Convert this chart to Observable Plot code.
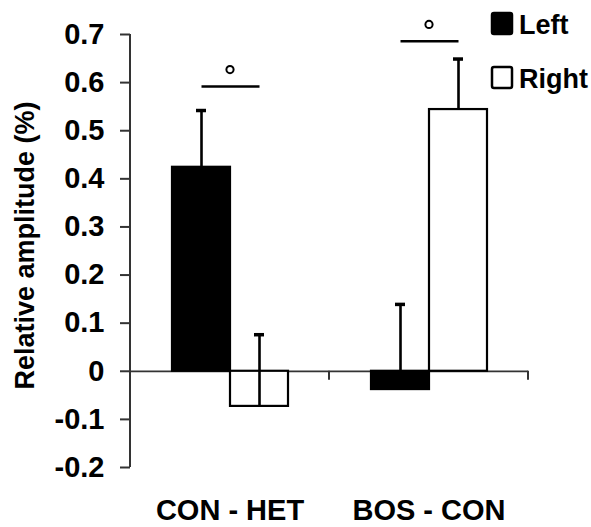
<!DOCTYPE html>
<html><head><meta charset="utf-8">
<script src="https://cdn.jsdelivr.net/npm/d3@7"></script>
<script src="https://cdn.jsdelivr.net/npm/@observablehq/plot@0.6"></script>
<style>body{margin:0;background:#fff}</style>
</head><body><div id="chart"></div>
<script>
const groups = ["CON - HET", "BOS - CON"];
const sides = ["Left", "Right"];
const leftValues = [0.424, -0.038];
const rightValues = [-0.073, 0.544];
const leftErrPlus = [0.118, 0.177];
const rightErrPlus = [0.149, 0.105];
const sigLineY = [0.592, 0.686];
const sigMarkY = [0.627, 0.721];
const yTicks = [-0.2, -0.1, 0, 0.1, 0.2, 0.3, 0.4, 0.5, 0.6, 0.7];
const yLabel = "Relative amplitude (%)";
const legendLabels = ["Left", "Right"];
const sideColors = ["#000", "#fff"];

const bars = groups.flatMap((g, i) => [
  {group: g, side: sides[0], value: leftValues[i], err: leftErrPlus[i]},
  {group: g, side: sides[1], value: rightValues[i], err: rightErrPlus[i]}
]);
const sig = groups.map((g, i) => ({group: g, y: sigLineY[i], mark: sigMarkY[i]}));
const fmt = d => Math.abs(d) < 1e-9 ? "0" : d.toFixed(1);

const font = "'Liberation Sans', Arial, sans-serif";
const chart = Plot.plot({
  width: 591, height: 527,
  marginLeft: 129, marginRight: 63, marginTop: 34, marginBottom: 60,
  style: {fontFamily: font, fontSize: "29px", fontWeight: "bold", color: "#000", background: "#fff", overflow: "visible"},
  fx: {domain: groups, padding: 0, label: null},
  x: {domain: sides, paddingInner: 0, paddingOuter: 0.7, axis: null},
  y: {domain: [-0.2, 0.7], label: null},
  color: {domain: sides, range: sideColors},
  marks: [
    Plot.ruleY([0], {stroke: "#333", strokeWidth: 1.8}),
    Plot.barY(bars, {fx: "group", x: "side", y: "value", fill: "side", stroke: "#000", strokeWidth: 2.2}),
    Plot.ruleX(bars, {fx: "group", x: "side", y1: "value", y2: d => d.value + d.err, stroke: "#000", strokeWidth: 2.6}),
    Plot.tickY(bars, {fx: "group", x: "side", y: d => d.value + d.err, stroke: "#000", strokeWidth: 3.5, insetLeft: 24, insetRight: 24}),
    Plot.link(sig, {fx: "group", x1: () => sides[0], x2: () => sides[1], y1: "y", y2: "y", stroke: "#000", strokeWidth: 2.4}),
    Plot.dot(sig, {fx: "group", y: "mark", r: 3.6, stroke: "#000", strokeWidth: 2, fill: "#fff"}),
    Plot.axisY({ticks: yTicks, tickSize: 10, tickPadding: 16, tickFormat: fmt, fontSize: 29, stroke: "#333", strokeWidth: 2, label: null}),
    Plot.axisFx({anchor: "bottom", tickSize: 0, tickPadding: 32, fontSize: 29, label: null})
  ]
});

const svg = d3.select(chart);
const ys = chart.scale("y");
const fxs = chart.scale("fx");
const x0 = fxs.apply(groups[0]);
// y-axis domain line
svg.append("line")
  .attr("x1", x0).attr("x2", x0)
  .attr("y1", ys.apply(0.7)).attr("y2", ys.apply(-0.2))
  .attr("stroke", "#333").attr("stroke-width", 2);
// x-axis ticks at group boundaries
groups.forEach(g => {
  const xe = fxs.apply(g) + fxs.bandwidth;
  svg.append("line")
    .attr("x1", xe).attr("x2", xe)
    .attr("y1", ys.apply(0)).attr("y2", ys.apply(0) + 9)
    .attr("stroke", "#333").attr("stroke-width", 2);
});
// y-axis title
svg.append("text")
  .attr("transform", `translate(34,${(ys.apply(0.7) + ys.apply(-0.2)) / 2 - 5}) rotate(-90)`)
  .attr("text-anchor", "middle")
  .attr("font-size", 27).attr("font-weight", "bold").attr("fill", "#000")
  .text(yLabel);
// legend
const lg = svg.append("g");
legendLabels.forEach((lab, i) => {
  const yTop = 13 + i * 54;
  lg.append("rect")
    .attr("x", 492).attr("y", yTop).attr("width", 20).attr("height", 21).attr("rx", 2)
    .attr("fill", sideColors[i]).attr("stroke", "#000").attr("stroke-width", 2.5);
  lg.append("text")
    .attr("x", 519).attr("y", yTop + 21)
    .attr("text-anchor", "start")
    .attr("font-size", 27).attr("font-weight", "bold").attr("fill", "#000")
    .text(lab);
});

document.getElementById("chart").appendChild(chart);
</script>
</body></html>
